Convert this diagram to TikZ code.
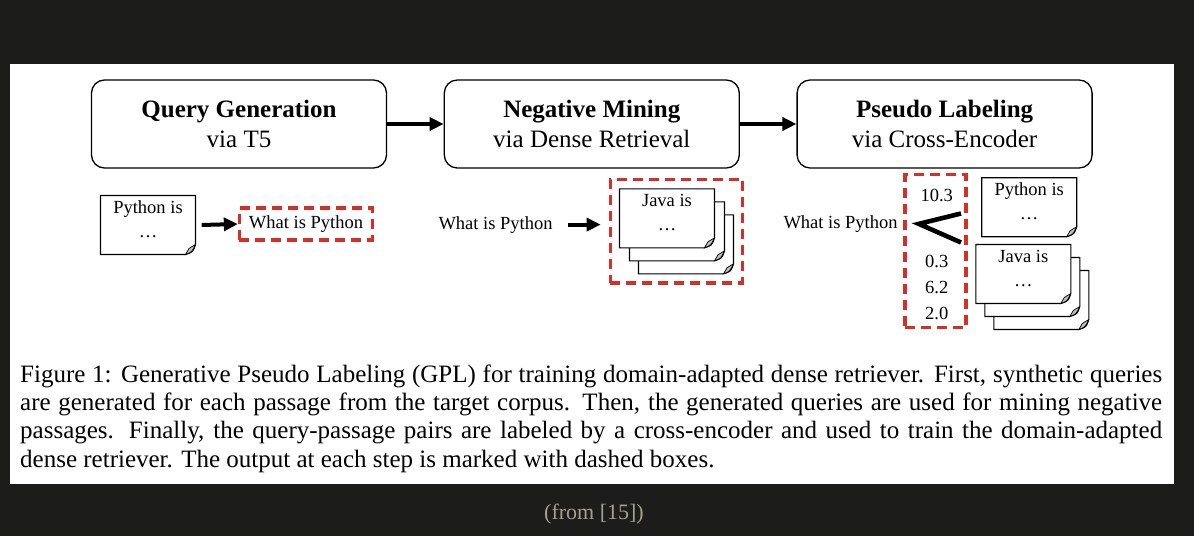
\documentclass[tikz,border=0pt]{standalone}
\usepackage{fontspec}
\setmainfont{Liberation Serif}
\usetikzlibrary{arrows.meta, positioning, fit, calc}

\definecolor{pagedark}{RGB}{28,28,27}
\definecolor{outred}{RGB}{214,46,40}
\definecolor{srcgray}{RGB}{165,160,148}

\tikzset{
  stage/.style={draw, rounded corners=13pt, line width=1.3pt, minimum width=295pt, minimum height=88pt, align=center, font=\fontsize{25}{30.6}\selectfont},
  flow/.style={-{Triangle[length=14pt,width=13pt]}, line width=4pt},
  output/.style={draw=outred, line width=3.2pt, dash pattern=on 10pt off 6pt},
  smalltext/.style={font=\fontsize{18.5}{24}\selectfont, inner sep=0pt},
  paper/.style={smalltext, minimum width=95pt, minimum height=59pt, align=center},
  sheet/.style={fill=white, line width=1.1pt},
  curl/.style={fill=black!25, line width=0.7pt},
}

% text of a sheet: first line, then dots
\newcommand{\sheettext}[1]{\rule{0pt}{13pt}#1\\\ldots\rule[-13pt]{0pt}{13pt}}
% sheet with dog-ear: name, centre, text
\newcommand{\docnote}[3]{%
  \coordinate (#1c) at #2;
  \filldraw[sheet] ($(#1c)+(-47.5,-29.5)$) -- ($(#1c)+(47.5,-29.5)$) -- ($(#1c)+(47.5,19.5)$)
    .. controls ($(#1c)+(45,27)$) .. ($(#1c)+(37.5,29.5)$) -- ($(#1c)+(-47.5,29.5)$) -- cycle;
  \filldraw[curl] ($(#1c)+(47.5,19.5)$) -- ($(#1c)+(41,23.5)$) -- ($(#1c)+(37.5,29.5)$)
    .. controls ($(#1c)+(44,27)$) .. ($(#1c)+(47.5,19.5)$);
  \node[paper] (#1) at (#1c) {#3};
}

\begin{document}
\begin{tikzpicture}[x=1pt, y=-1pt]
    % page
    \fill[pagedark] (0,0) rectangle (1194,536);
    \fill[white] (10,64) rectangle (1174,484);

    % Stages
    \node[stage] (qgen) at (239,124) {\textbf{Query Generation}\\via T5};
    \node[stage, right=56.5pt of qgen] (nmine) {\textbf{Negative Mining}\\via Dense Retrieval};
    \node[stage, right=56.5pt of nmine] (plabel) {\textbf{Pseudo Labeling}\\via Cross-Encoder};
    \draw[flow] (qgen) -- (nmine);
    \draw[flow] (nmine) -- (plabel);

    % Step 1: passage to query
    \docnote{src}{(148,225)}{\sheettext{Python is}}
    \node[smalltext, output, minimum height=32pt, inner xsep=9.5pt] (genq) at (306,224) {What is Python};
    \draw[flow] ([xshift=6pt]src.east) -- (genq.west);

    % Step 2: query to negatives
    \node[smalltext, anchor=base west] (query2) at (438.3,229) {What is Python};
    \docnote{neg3}{(686,244.3)}{}
    \docnote{neg2}{(677,231.3)}{}
    \docnote{neg1}{(667,218.3)}{\sheettext{Java is}}
    \node[output, fit=(neg1)(neg3), inner sep=9pt] (negbox) {};
    \draw[flow] ([xshift=15pt]query2.east) -- ([xshift=-8pt]query2.east -| negbox.west);

    % Step 3: scores
    \node[smalltext, anchor=base west] (query3) at (783.3,228.3) {What is Python};
    \node[output, minimum width=61pt, minimum height=153pt] (scores) at (935.5,251) {};
    \node[smalltext, anchor=base] (posscore) at (936.7,201.3) {10.3};
    \node[smalltext, anchor=north, align=center, font=\fontsize{18.5}{26}\selectfont] (negscore) at (936.7,254.5) {0.3\\6.2\\2.0};
    \docnote{pos}{(1029.2,207.2)}{\sheettext{Python is}}
    \docnote{hard3}{(1041.3,300)}{}
    \docnote{hard2}{(1032.3,287)}{}
    \docnote{hard1}{(1023.3,274)}{\sheettext{Java is}}
    \coordinate[right=21pt of query3] (fork);
    \coordinate (armtop) at (961,213.5);
    \coordinate (armbot) at (961,242.5);
    \draw[line width=4.6pt] (armtop) -- (fork) -- (armbot);

    % Caption
    \node[anchor=north west, text width=1142pt, align=justify, inner sep=0pt, font=\fontsize{25}{28.3}\selectfont] (caption) at (20,364.3) {Figure 1: Generative Pseudo Labeling (GPL) for training domain-adapted dense retriever. First, synthetic queries \linebreak are generated for each passage from the target corpus. Then, the generated queries are used for mining negative \linebreak passages. Finally, the query-passage pairs are labeled by a cross-encoder and used to train the domain-adapted \linebreak dense retriever. The output at each step is marked with dashed boxes.};
    \node[text=srcgray, font=\fontsize{22}{26}\selectfont] (source) at (594,514) {(from [15])};
\end{tikzpicture}
\end{document}
